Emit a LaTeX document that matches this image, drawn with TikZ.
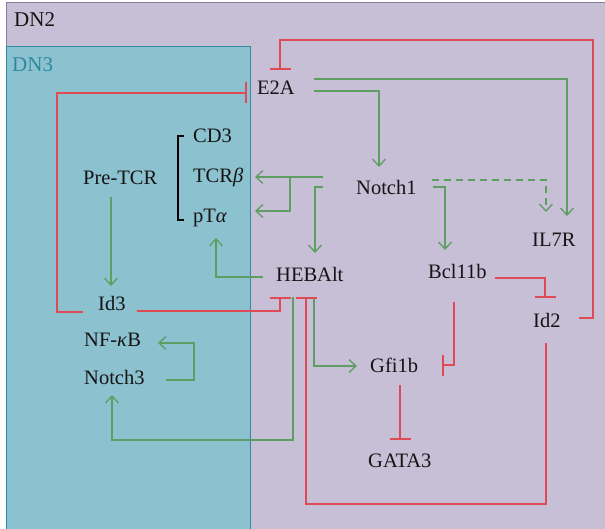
\documentclass[tikz,border=0pt]{standalone}
\usepackage{fontspec}
\setmainfont{Liberation Serif}
\usetikzlibrary{arrows.meta,calc}
\definecolor{dntwo}{HTML}{C6BFD6}
\definecolor{dntwoline}{HTML}{857C98}
\definecolor{dnthree}{HTML}{8CC1CF}
\definecolor{dnthreeline}{HTML}{2D8AA0}
\definecolor{inhred}{HTML}{E04A55}
\definecolor{actgreen}{HTML}{5E9E62}
\begin{document}
\begin{tikzpicture}[x=1pt,y=-1pt,
  font=\fontsize{20.5}{24}\selectfont,
  lbl/.style={anchor=base west,inner sep=0pt,text=black!92},
  act/.style={draw=actgreen,line width=1.3pt,-{Straight Barb[length=7pt,width=13pt]}},
  inh/.style={draw=inhred,line width=1.5pt,-{Bar[width=21pt,line width=1.8pt]}},
  brk/.style={draw=black,line width=1.3pt}]
\useasboundingbox (0,0) rectangle (605,529);
% compartments
\fill[dntwo] (6,3) rectangle (612,535);
\draw[dntwoline,line width=1pt] (6,535) -- (6,3) -- (612,3);
\fill[dnthree] (6,47) rectangle (250,535);
\draw[dnthreeline,line width=1pt] (6,535) -- (6,47) -- (250,47) -- (250,535);
\node[lbl,font=\fontsize{21}{24}\selectfont] (dn2) at (14,27) {DN2};
\node[lbl,font=\fontsize{21}{24}\selectfont,text=dnthreeline] (dn3) at (12,72) {DN3};
% genes
\node[lbl] (E2A) at (257,95) {E2A};
\node[lbl] (CD3) at (193,143) {CD3};
\node[lbl] (TCRb) at (193,183) {TCR\textit{β}};
\node[lbl] (pTa) at (193,223) {pT\textit{α}};
\node[lbl] (PreTCR) at (83,185) {Pre-TCR};
\node[lbl] (Notch1) at (356,195) {Notch1};
\node[lbl] (IL7R) at (532,247) {IL7R};
\node[lbl] (HEBAlt) at (276,282) {HEBAlt};
\node[lbl] (Bcl11b) at (428,279) {Bcl11b};
\node[lbl] (Id3) at (98,310.5) {Id3};
\node[lbl] (Id2) at (533,327.5) {Id2};
\node[lbl] (NFkB) at (84,346) {NF-\textit{κ}B};
\node[lbl] (Notch3) at (84,384) {Notch3};
\node[lbl] (Gfi1b) at (370,372.5) {Gfi1b};
\node[lbl] (GATA3) at (368,467) {GATA3};
% bracket
\draw[brk] ($(CD3.base west)+(-9,-7)$) -- ++(-6,0) |- ($(pTa.base west)+(-9,-3)$);
% activations
\draw[act] ($(E2A.base west)+(57,-16)$) -| ($(IL7R.base west)+(35,-31)$);
\draw[act] ($(E2A.base west)+(57,-4)$) -| ($(Notch1.base west)+(23,-28)$);
\draw[act] ($(Notch1.base west)+(-33,-18)$) -- ($(TCRb.base west)+(62,-6)$);
\draw[act] ($(Notch1.base west)+(-66,-18)$) |- ($(pTa.base west)+(62,-12)$);
\draw[act] ($(Notch1.base west)+(-33,-8)$) -| ($(HEBAlt.base west)+(39,-29)$);
\draw[act] ($(Notch1.base west)+(77,-8)$) -| ($(Bcl11b.base west)+(17,-29)$);
\draw[act,dashed,dash pattern=on 7pt off 5pt] ($(Notch1.base west)+(76,-15)$) -| ($(IL7R.base west)+(14,-35)$);
\draw[act] ($(HEBAlt.base west)+(-13,-5)$) -| ($(pTa.base west)+(23,15)$);
\draw[act] ($(PreTCR.base west)+(28,12)$) -- ($(Id3.base west)+(13,-24.5)$);
\draw[act] ($(Notch3.base west)+(82,-4)$) -- ++(28,0) |- ($(NFkB.base west)+(74,-3)$);
\draw[act] ($(HEBAlt.base west)+(17,15)$) -- ++(0,143) -| ($(Notch3.base west)+(28,11)$);
\draw[act] ($(HEBAlt.base west)+(38,17)$) |- ($(Gfi1b.base west)+(-13,-6.5)$);
% inhibitions
\draw[inh] ($(Id2.base west)+(46,-9.5)$) -- ++(14,0) -- ++(0,-278) -| ($(E2A.base west)+(23,-25)$);
\draw[inh] ($(Id3.base west)+(-15,1.5)$) -- ++(-26,0) |- ($(E2A.base west)+(-10,-2)$);
\draw[inh] ($(Id3.base west)+(39,0.5)$) -| ($(HEBAlt.base west)+(4,15)$);
\draw[inh] ($(Id2.base west)+(13,15.5)$) -- ++(0,161) -| ($(HEBAlt.base west)+(30,15)$);
\draw[inh] ($(Bcl11b.base west)+(67,-1)$) -| ($(Id2.base west)+(12,-29.5)$);
\draw[inh] ($(Bcl11b.base west)+(26,23)$) |- ($(Gfi1b.base west)+(72,-7.5)$);
\draw[inh] ($(Gfi1b.base west)+(30,12.5)$) -- ($(GATA3.base west)+(32,-27)$);
\end{tikzpicture}
\end{document}
